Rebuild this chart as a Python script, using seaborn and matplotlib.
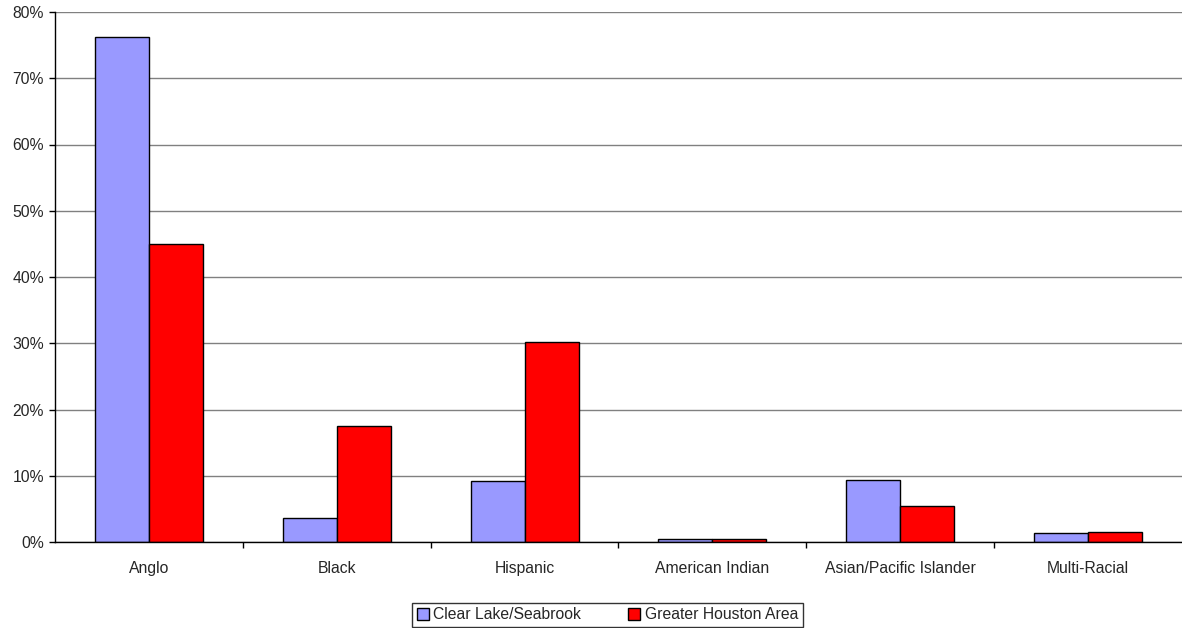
import pandas as pd
import seaborn as sns
import matplotlib.pyplot as plt
from matplotlib.ticker import FixedLocator, PercentFormatter

# Chart data
categories = ["Anglo", "Black", "Hispanic", "American Indian",
              "Asian/Pacific Islander", "Multi-Racial"]
clear_lake = [76.2, 3.6, 9.2, 0.4, 9.35, 1.3]
greater_houston = [45.0, 17.5, 30.2, 0.5, 5.4, 1.45]
series_names = ["Clear Lake/Seabrook", "Greater Houston Area"]
y_ticks = [0, 10, 20, 30, 40, 50, 60, 70, 80]

df = pd.DataFrame({
    "category": categories * 2,
    "value": clear_lake + greater_houston,
    "area": [series_names[0]] * len(categories) + [series_names[1]] * len(categories),
})

sns.set_style("white")
plt.rcParams['font.family'] = ['Liberation Sans', 'DejaVu Sans']
fs = 11.3

fig = plt.figure(figsize=(11.82, 6.28), dpi=100)
ax = fig.add_axes([55 / 1182, 1 - 542 / 628, 1 - 55 / 1182, 530 / 628])

sns.barplot(data=df, x="category", y="value", hue="area", order=categories,
            hue_order=series_names, palette=["#9999FF", "#FF0000"],
            width=0.575, edgecolor="black", linewidth=1, saturation=1,
            ax=ax)

ax.set_xlim(-0.5, 5.5)
ax.set_ylim(0, 80)
ax.set_yticks(y_ticks)
ax.yaxis.set_major_formatter(PercentFormatter(decimals=0))
ax.yaxis.grid(True, color="#808080", linewidth=1)
ax.set_axisbelow(True)

ax.set_xlabel("")
ax.set_ylabel("")
ax.tick_params(axis="x", which="major", length=0, pad=14, labelsize=fs)
ax.xaxis.set_minor_locator(FixedLocator([0.5, 1.5, 2.5, 3.5, 4.5]))
ax.tick_params(axis="x", which="minor", direction="out", length=4,
               width=1, color="black", bottom=True)
ax.tick_params(axis="y", direction="out", length=4, width=1, color="black",
               left=True, labelsize=fs, pad=4)

for side in ["top", "right"]:
    ax.spines[side].set_visible(False)
for side in ["left", "bottom"]:
    ax.spines[side].set_color("black")
    ax.spines[side].set_linewidth(1)

ax.legend_.remove()
handles, labels = ax.get_legend_handles_labels()
leg = fig.legend(handles, labels, loc="center", bbox_to_anchor=(0.514, 0.021),
                 ncol=2, frameon=True, fancybox=False, fontsize=fs,
                 handlelength=0.75, handleheight=0.75, handletextpad=0.3,
                 columnspacing=3.0, borderpad=0.3, borderaxespad=0)
leg.get_frame().set_edgecolor("black")
leg.get_frame().set_linewidth(1)

fig.savefig("out.png", dpi=100)
